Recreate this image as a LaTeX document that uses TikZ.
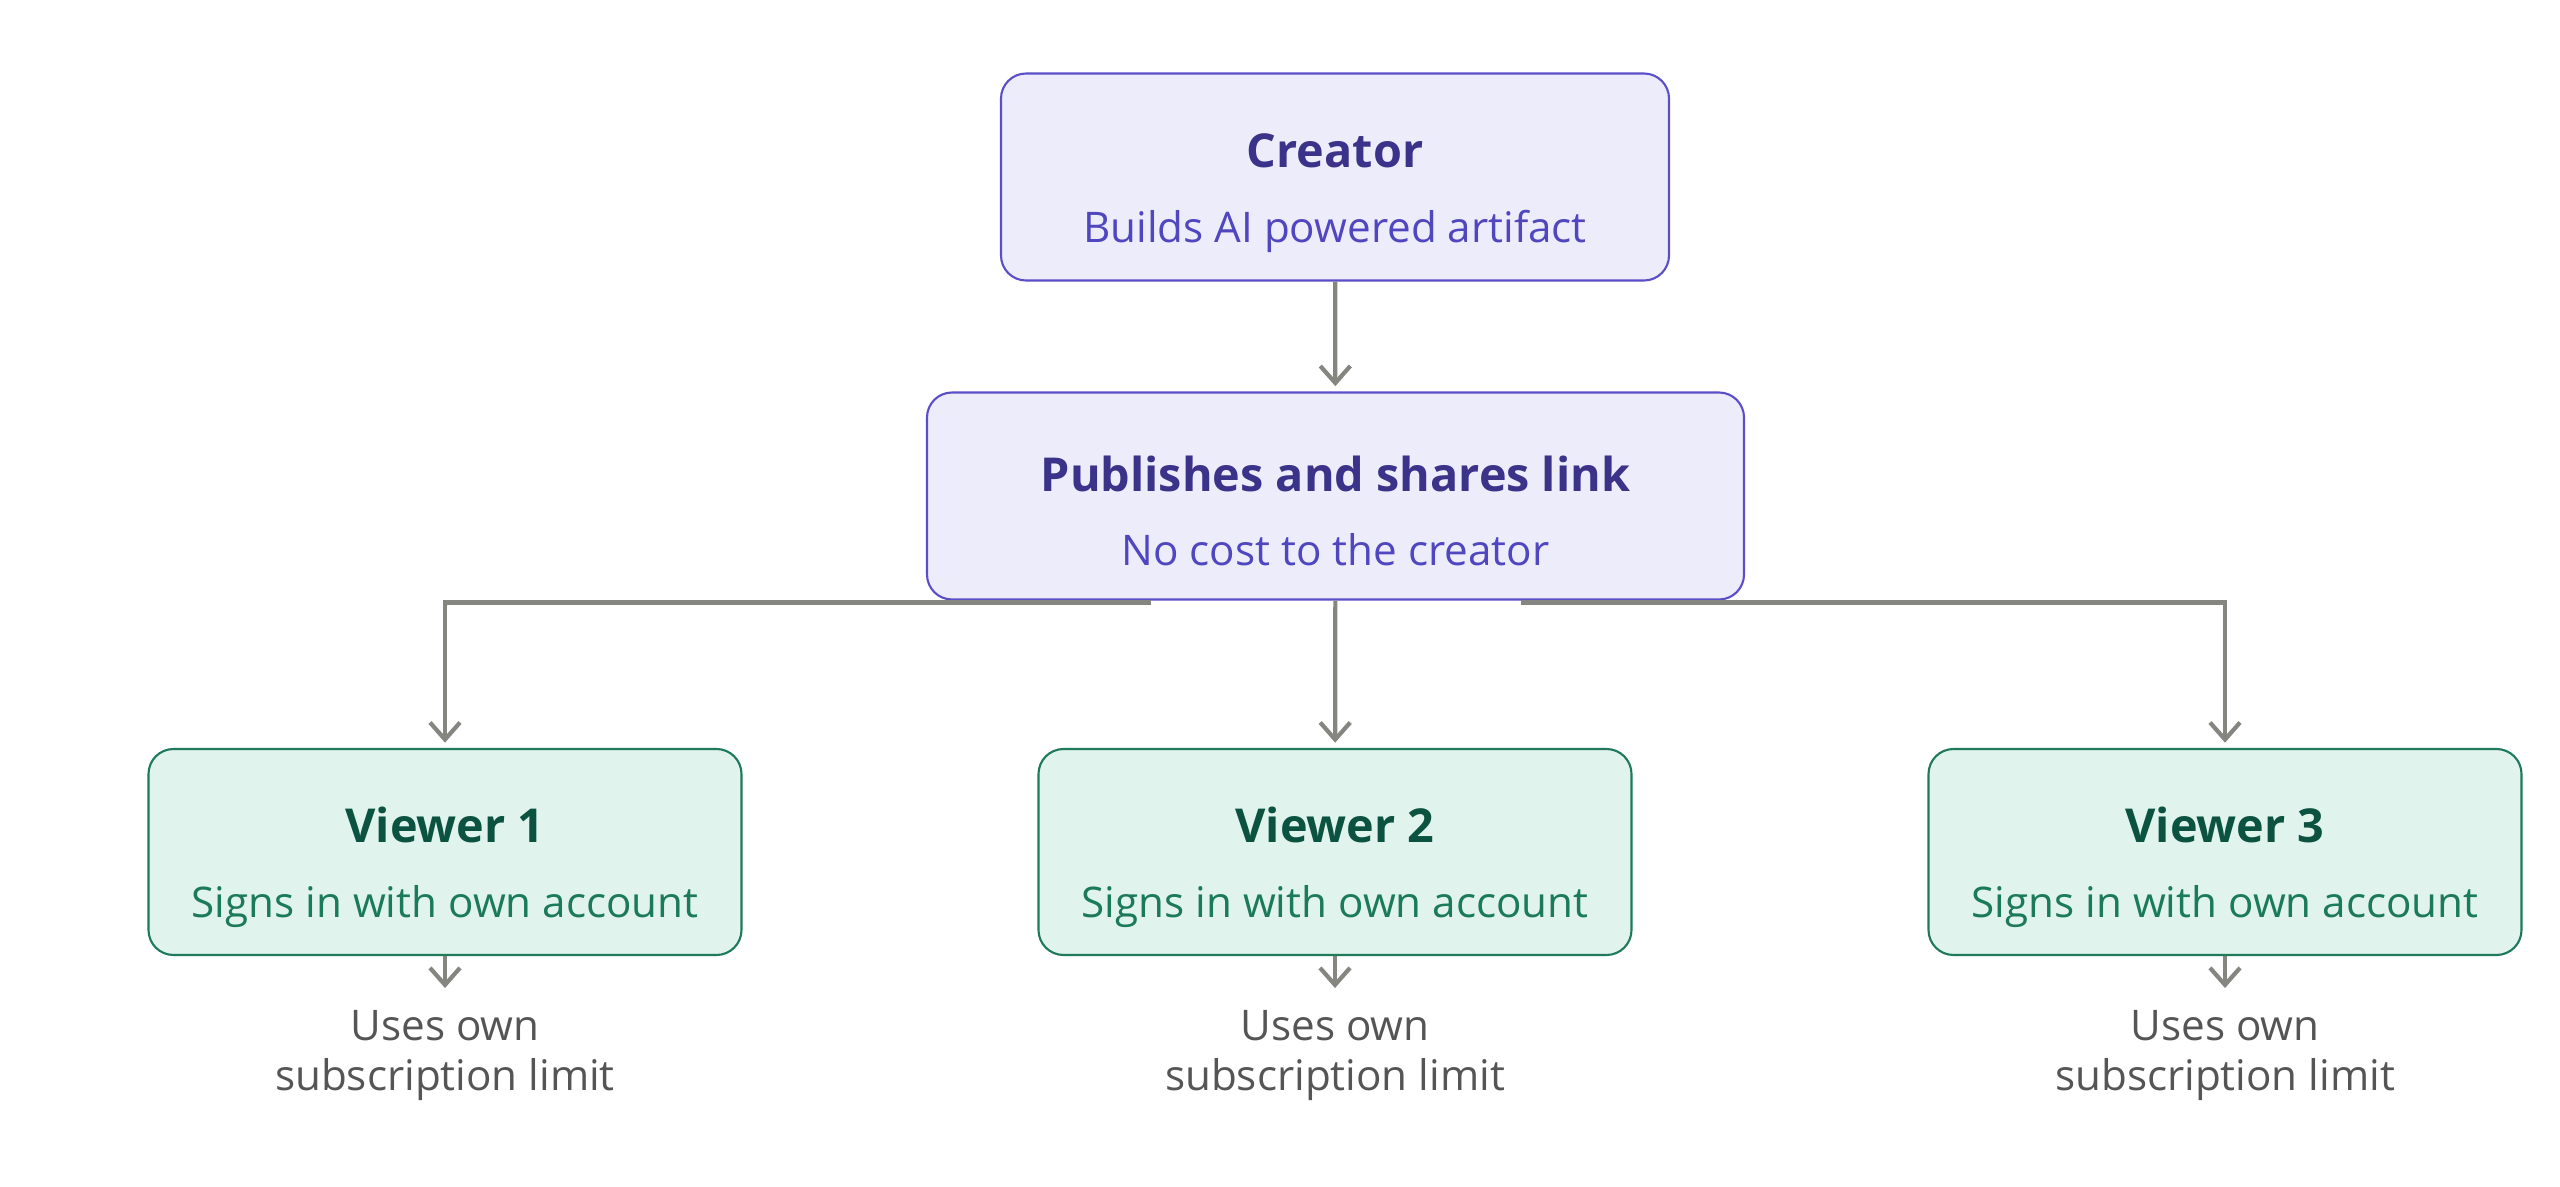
\documentclass[tikz,border=0pt]{standalone}
\usepackage{fontspec}
\setmainfont{Open Sans}
\usepackage{tikz}
\usetikzlibrary{arrows.meta,calc,positioning}

\definecolor{crfill}{HTML}{EDECFB}
\definecolor{crdraw}{HTML}{5A4FC8}
\definecolor{crtitle}{HTML}{3B3289}
\definecolor{crsub}{HTML}{5046C0}
\definecolor{vwfill}{HTML}{E0F3EC}
\definecolor{vwdraw}{HTML}{1E7A5A}
\definecolor{vwtitle}{HTML}{0B5240}
\definecolor{vwsub}{HTML}{1A7A5A}
\definecolor{flowgray}{HTML}{868681}
\definecolor{notegray}{HTML}{555555}

\newcommand{\boxtitle}[2]{\rule{0pt}{0.66cm}{\fontsize{13.3}{16}\selectfont\bfseries\color{#1}#2}}
\newcommand{\boxsub}[2]{{\fontsize{12}{15}\selectfont\color{#1}#2}}

\begin{document}
\begin{tikzpicture}[
  crbox/.style={draw=crdraw, fill=crfill, line width=0.6pt, rounded corners=0.25cm,
    align=center, inner sep=0pt, minimum height=2.07cm},
  vwbox/.style={draw=vwdraw, fill=vwfill, line width=0.6pt, rounded corners=0.25cm,
    align=center, inner sep=0pt, minimum width=5.93cm, minimum height=2.06cm},
  flowedge/.style={draw=flowgray, line width=1.2pt,
    -{Straight Barb[length=0.17cm, width=0.3cm, line width=1.2pt]}, shorten >=1.5pt},
  notetext/.style={align=center, inner sep=1pt, text=notegray,
    font=\fontsize{12}{14.2}\selectfont},
]
\useasboundingbox (0,0) rectangle (25.6,-11.87);

% --- creator and publishing step ---
\node[crbox, minimum width=6.68cm] (creator) at (13.35,-1.77)
  {\boxtitle{crtitle}{Creator}\\[0.32cm]
   \boxsub{crsub}{Builds AI powered artifact}};
\node[crbox, minimum width=8.17cm] (pub) at (13.355,-4.96)
  {\boxtitle{crtitle}{Publishes and shares link}\\[0.32cm]
   \boxsub{crsub}{No cost to the creator}};

% --- viewers ---
\foreach \i/\x in {1/4.45, 2/13.35, 3/22.25} {
  \node[vwbox] (v\i) at (\x,-8.52)
    {\boxtitle{vwtitle}{Viewer \i}\\[0.32cm]
     \boxsub{vwsub}{Signs in with own account}};
  \node[notetext, below=0.5cm of v\i] (n\i) {Uses own\\subscription limit};
}

% --- connectors ---
\coordinate (pubL) at ($(pub.south)+(-1.85,-0.02)$);
\coordinate (pubR) at ($(pub.south)+(1.85,-0.02)$);
\draw[flowedge] (creator) -- (pub);
\draw[flowedge] (pub) -- (v2);
\draw[flowedge] (pubL) -| (v1);
\draw[flowedge] (pubR) -| (v3);
\foreach \i in {1,2,3}
  \draw[flowedge, shorten >=0.18cm] (v\i) -- (n\i);

\end{tikzpicture}
\end{document}
